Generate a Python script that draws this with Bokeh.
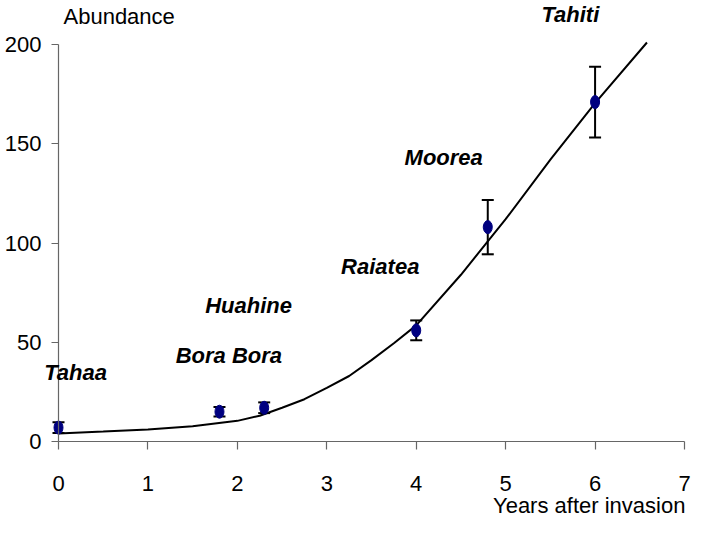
from bokeh.plotting import figure
from bokeh.models import ColumnDataSource, Whisker, TeeHead, Label, Range1d, FixedTicker
from bokeh.embed import file_html
from bokeh.resources import INLINE

# ---- data ----
islands = ["Tahaa", "Bora Bora", "Huahine", "Raiatea", "Moorea", "Tahiti"]
years = [0.0, 1.8, 2.3, 4.0, 4.8, 6.0]
abundance = [7, 15, 17, 56, 108, 171]
error = [2.7, 2.4, 2.7, 5.0, 13.7, 17.8]

fit_x = [0.0, 0.5, 1.0, 1.5, 2.0, 2.25, 2.5, 2.75, 3.0, 3.25, 3.5, 3.75, 4.0, 4.5, 5.0, 5.5, 6.0, 6.58]
fit_y = [4.0, 5.0, 6.1, 7.7, 10.4, 13.0, 17.0, 21.3, 27.0, 33.0, 41.0, 49.5, 58.5, 84.0, 112.0, 142.0, 170.5, 201.0]

x_ticks = [0, 1, 2, 3, 4, 5, 6, 7]
y_ticks = [0, 50, 100, 150, 200]

# label anchor positions (data units, left edge / vertical middle)
label_x = [-0.16, 1.31, 1.64, 3.16, 3.87, 5.40]
label_y = [35, 43.5, 68.3, 88, 143.3, 215]

# ---- layout: the frame fills the whole canvas, axes are pinned at 0 ----
W, H = 691, 518
X0_PX, X_SCALE = 58.0, 89.43     # pixel of x=0, pixels per year
Y0_PX, Y_SCALE = 441.0, 1.985    # pixel of y=0, pixels per unit
x_range = Range1d(-X0_PX / X_SCALE, (W - X0_PX) / X_SCALE)
y_range = Range1d((Y0_PX - H) / Y_SCALE, Y0_PX / Y_SCALE)

p = figure(width=W, height=H, output_backend="svg", toolbar_location=None, title=None,
           x_range=x_range, y_range=y_range, min_border=0)
p.min_border_left = 0
p.min_border_right = 0
p.min_border_top = 0
p.min_border_bottom = 0
p.outline_line_color = None
p.xgrid.visible = False
p.ygrid.visible = False
p.background_fill_color = "white"
p.border_fill_color = "white"

axis_color = "#666666"
tick_font = "Liberation Sans"
for ax in (p.xaxis[0], p.yaxis[0]):
    ax.fixed_location = 0
    ax.axis_line_color = axis_color
    ax.axis_line_width = 1.2
    ax.major_tick_line_color = axis_color
    ax.major_tick_line_width = 1.2
    ax.minor_tick_line_color = None
    ax.major_tick_in = 0
    ax.major_label_text_font = tick_font
    ax.major_label_text_font_size = "22px"
    ax.major_label_text_color = "black"
p.xaxis.ticker = FixedTicker(ticks=x_ticks)
p.yaxis.ticker = FixedTicker(ticks=y_ticks)
p.xaxis.bounds = (0, 7)
p.yaxis.bounds = (0, 200)
p.xaxis.major_tick_out = 8
p.yaxis.major_tick_out = 7
p.xaxis.major_label_standoff = 26
p.yaxis.major_label_standoff = 10

src = ColumnDataSource(dict(x=years, y=abundance,
                            upper=[a + e for a, e in zip(abundance, error)],
                            lower=[a - e for a, e in zip(abundance, error)]))

w = Whisker(source=src, base="x", upper="upper", lower="lower", dimension="height",
            line_color="black", line_width=2,
            upper_head=TeeHead(size=12, line_color="black", line_width=2),
            lower_head=TeeHead(size=12, line_color="black", line_width=2))
p.add_layout(w)

p.line(fit_x, fit_y, line_color="black", line_width=2)
p.ellipse(x="x", y="y", width=9, height=13, width_units="screen", height_units="screen",
          fill_color="#000080", line_color="#000080", source=src)

for name, lx, ly in zip(islands, label_x, label_y):
    p.add_layout(Label(x=lx, y=ly, text=name, text_font="Liberation Sans",
                       text_font_style="bold italic", text_font_size="22px",
                       text_align="left", text_baseline="middle", text_color="black"))

p.add_layout(Label(x=0.056, y=214, text="Abundance", text_font="Liberation Sans",
                   text_font_size="22px", text_align="left", text_baseline="middle",
                   text_color="black"))
p.add_layout(Label(x=7.01, y=-32, text="Years after invasion", text_font="Liberation Sans",
                   text_font_size="22px", text_align="right", text_baseline="middle",
                   text_color="black"))

open("out.html", "w").write(file_html(p, INLINE))
